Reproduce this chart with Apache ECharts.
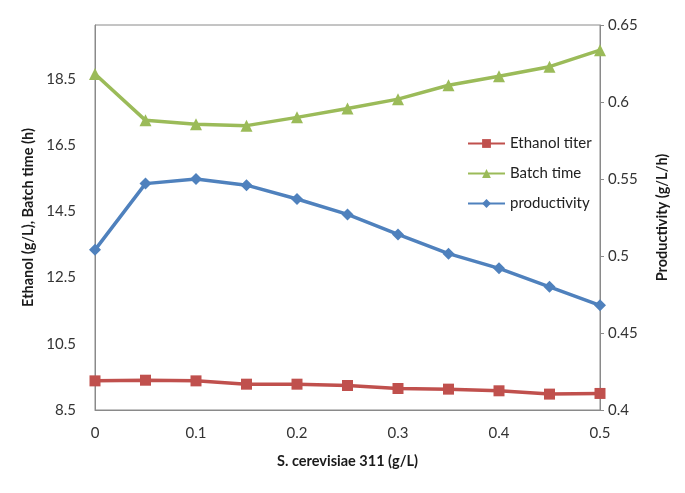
<!DOCTYPE html>
<html>
<head>
<meta charset="utf-8">
<script src="https://cdn.jsdelivr.net/npm/echarts@6/dist/echarts.min.js"></script>
<style>html,body{margin:0;padding:0;background:#fff;}#c{width:685px;height:493px;}</style>
</head>
<body>
<div id="c"></div>
<script>
var xValues = [0, 0.05, 0.1, 0.15, 0.2, 0.25, 0.3, 0.35, 0.4, 0.45, 0.5];
var ethanolTiter = [9.38, 9.40, 9.38, 9.28, 9.28, 9.24, 9.15, 9.13, 9.08, 8.98, 9.00];
var batchTime = [18.65, 17.25, 17.13, 17.09, 17.34, 17.61, 17.89, 18.31, 18.58, 18.87, 19.37];
var productivity = [0.504, 0.547, 0.550, 0.546, 0.537, 0.527, 0.514, 0.5015, 0.492, 0.480, 0.468];
var seriesNames = ['Ethanol titer', 'Batch time', 'productivity'];

function pairs(vals) { return vals.map(function (v, i) { return [xValues[i], v]; }); }

var font = 'Lato, "Open Sans", sans-serif';
var chart = echarts.init(document.getElementById('c'), null, { renderer: 'canvas' });
chart.setOption({
  animation: false,
  backgroundColor: '#fff',
  textStyle: { fontFamily: font },
  grid: { left: 95, right: 85, top: 25, bottom: 83, show: true, borderColor: '#8a8a8a', borderWidth: 1, containLabel: false },
  legend: {
    orient: 'vertical', left: 462, top: 131, itemGap: 15, itemWidth: 37, itemHeight: 11,
    textStyle: { fontFamily: font, fontSize: 15, color: '#222' },
    data: seriesNames
  },
  xAxis: {
    type: 'value', min: 0, max: 0.5, interval: 0.1,
    name: 'S. cerevisiae 311 (g/L)', nameLocation: 'middle', nameGap: 44,
    nameTextStyle: { fontFamily: font, fontSize: 14.5, fontWeight: 'bold', color: '#1a1a1a' },
    axisLine: { lineStyle: { color: '#8a8a8a' } },
    axisTick: { show: false },
    splitLine: { show: false },
    axisLabel: { fontFamily: font, fontSize: 15, color: '#333', margin: 16 }
  },
  yAxis: [{
    type: 'value', min: 8.5, max: 20.13, interval: 2,
    name: 'Ethanol (g/L), Batch time (h)', nameLocation: 'middle', nameGap: 57, nameRotate: 90,
    nameTextStyle: { fontFamily: font, fontSize: 14.5, fontWeight: 'bold', color: '#1a1a1a' },
    axisLine: { show: true, lineStyle: { color: '#8a8a8a' } },
    axisTick: { show: false },
    splitLine: { show: false },
    axisLabel: { fontFamily: font, fontSize: 15, color: '#333', margin: 19, showMaxLabel: false }
  }, {
    type: 'value', min: 0.4, max: 0.65, interval: 0.05, position: 'right',
    name: 'Productivity (g/L/h)', nameLocation: 'middle', nameGap: 55, nameRotate: 90,
    nameTextStyle: { fontFamily: font, fontSize: 14.5, fontWeight: 'bold', color: '#1a1a1a' },
    axisLine: { show: true, lineStyle: { color: '#8a8a8a' } },
    axisTick: { show: true, length: 4, inside: false, lineStyle: { color: '#8a8a8a' } },
    splitLine: { show: false },
    axisLabel: { fontFamily: font, fontSize: 15, color: '#333', margin: 8 }
  }],
  series: [{
    name: seriesNames[0], type: 'line', yAxisIndex: 0, data: pairs(ethanolTiter),
    symbol: 'rect', symbolSize: 11, lineStyle: { width: 3.5, color: '#C0504D' },
    itemStyle: { color: '#C0504D' }, color: '#C0504D'
  }, {
    name: seriesNames[1], type: 'line', yAxisIndex: 0, data: pairs(batchTime),
    symbol: 'triangle', symbolSize: 12, lineStyle: { width: 3.5, color: '#9BBB59' },
    itemStyle: { color: '#9BBB59' }, color: '#9BBB59'
  }, {
    name: seriesNames[2], type: 'line', yAxisIndex: 1, data: pairs(productivity),
    symbol: 'diamond', symbolSize: 12, lineStyle: { width: 3.5, color: '#4F81BD' },
    itemStyle: { color: '#4F81BD' }, color: '#4F81BD'
  }]
});
</script>
</body>
</html>
